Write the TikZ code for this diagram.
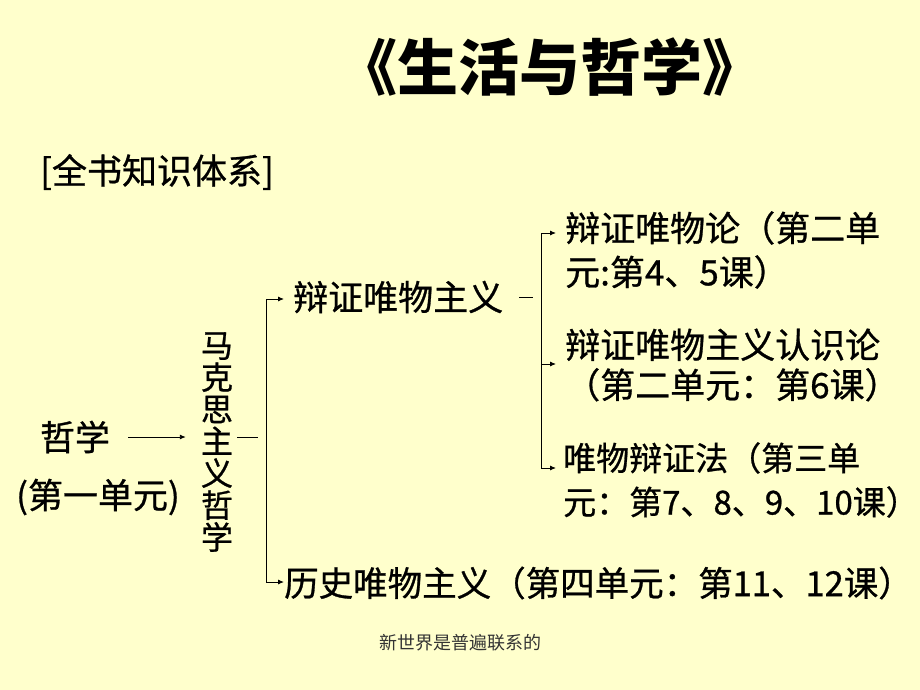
\documentclass[tikz,border=0pt]{standalone}
\usepackage{fontspec}
\setmainfont{Noto Sans CJK SC}
\newfontfamily\bodyfont{Noto Sans CJK SC}[FakeBold=0.8]
\usetikzlibrary{arrows.meta}
\definecolor{bg}{HTML}{FFFFCC}
\begin{document}
\begin{tikzpicture}[x=1pt,y=-1pt,
  lbl/.style={inner sep=0pt, font=\bodyfont\fontsize{35}{44}\selectfont, align=left},
  arr/.style={-{Latex[length=6pt,width=5pt]}, line width=0.9pt},
  ln/.style={line width=0.9pt}]
\fill[bg] (0,0) rectangle (920,690);
\useasboundingbox (0,0) rectangle (920,690);
\node[font=\fontsize{61}{61}\selectfont\bfseries, inner sep=0pt] (title) at (550,67) {《生活与哲学》};
\node[lbl, anchor=west] (hdr) at (40,172) {[全书知识体系]};
\node[lbl] (zx) at (75,437) {哲学};
\node[lbl] (dy) at (98,497) {(第一单元)};
\node[inner sep=0pt, font=\bodyfont\fontsize{32}{32}\selectfont, align=center] (mk) at (217,442) {马\\克\\思\\主\\义\\哲\\学};
\node[lbl, anchor=west] (bz) at (293,297) {辩证唯物主义};
\node[lbl, anchor=west] (t1) at (565,250) {辩证唯物论（第二单\\元:第4、5课）};
\node[lbl, anchor=west, font=\bodyfont\fontsize{35}{40}\selectfont] (t2) at (565,365) {辩证唯物主义认识论\\（第二单元：第6课）};
\node[lbl, anchor=west, font=\bodyfont\fontsize{33}{44}\selectfont] (t3) at (563,480) {唯物辩证法（第三单\\元：第7、8、9、10课）};
\node[lbl, anchor=west, font=\bodyfont\fontsize{34.5}{44}\selectfont] (ls) at (284,583) {历史唯物主义（第四单元：第11、12课）};
\node[font=\fontsize{18}{18}\selectfont, text=black!80, inner sep=0pt] (ft) at (460,643) {新世界是普遍联系的};
% connectors
\draw[arr] ([xshift=18pt]zx.east) -- ([xshift=-15pt]mk.west |- zx.east);
\draw[ln] ([xshift=4pt]mk.east |- zx.east) -- ++(21,0);
\coordinate (b1) at (266,299);
\coordinate (b2) at (266,582);
\draw[ln] (b1) -- (b2);
\draw[arr] (b1) -- ([xshift=-9pt]bz.west |- b1);
\draw[arr] (b2) -- (ls.west |- b2);
\draw[ln] ([xshift=16pt]bz.east) -- ++(14,0);
\coordinate (c1) at (541,233);
\coordinate (c2) at (541,364);
\coordinate (c3) at (541,468);
\draw[ln] (c1) -- (c3);
\draw[arr] (c1) -- ([xshift=-9pt]t1.west |- c1);
\draw[arr] (c2) -- ([xshift=-9pt]t2.west |- c2);
\draw[arr] (c3) -- ([xshift=-7pt]t3.west |- c3);
\end{tikzpicture}
\end{document}
